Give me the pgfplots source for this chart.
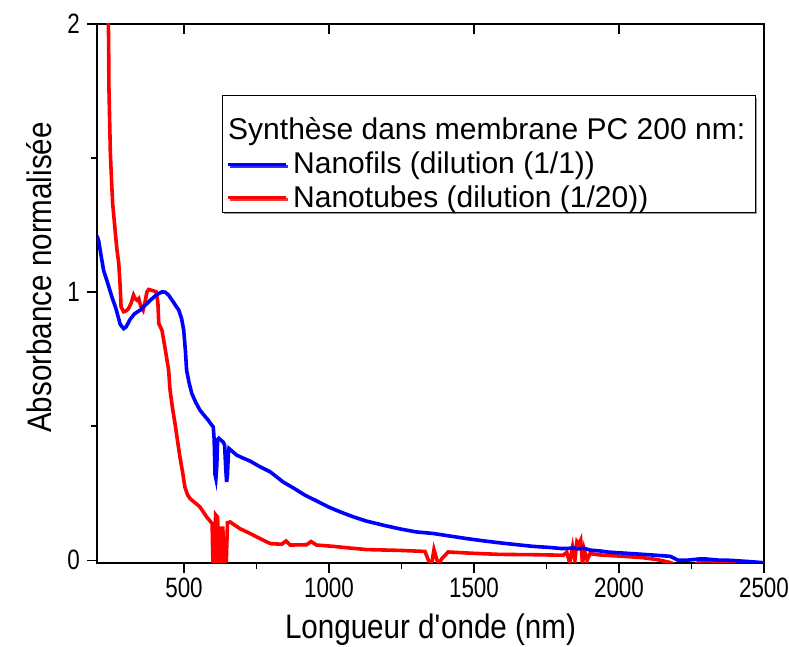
\documentclass[border=0pt]{standalone}
\usepackage{fontspec}
\setmainfont{Liberation Sans}
\newfontfamily\ticksfont[FakeStretch=0.8]{Liberation Sans}
\newfontfamily\labelfont[FakeStretch=0.87]{Liberation Sans}
\usepackage{pgfplots}
\pgfplotsset{compat=1.18}
\usetikzlibrary{shadows}

\pgfplotstableread{
x y
200 1.21
206 1.19
215 1.13
223 1.08
235 1.04
252 0.98
265 0.94
280 0.88
292 0.864
300 0.87
315 0.90
330 0.92
349 0.933
365 0.95
384 0.970
405 0.99
424 1.001
435 1.0
447 0.989
465 0.96
482 0.933
492 0.90
499 0.858
505 0.78
509 0.709
518 0.66
527 0.622
540 0.59
555 0.560
570 0.54
584 0.522
595 0.505
601 0.497
604 0.45
607 0.32
610 0.305
613 0.35
616 0.45
620 0.455
635 0.441
640 0.43
644 0.34
647 0.292
650 0.32
653 0.40
655 0.417
668 0.405
682 0.392
700 0.383
728 0.370
760 0.350
797 0.330
842 0.292
880 0.268
917 0.243
960 0.220
998 0.199
1040 0.180
1084 0.162
1130 0.146
1187 0.131
1245 0.117
1300 0.106
1360 0.100
1420 0.090
1475 0.081
1530 0.073
1590 0.065
1650 0.058
1704 0.052
1760 0.048
1800 0.044
1819 0.044
1840 0.046
1860 0.043
1880 0.045
1900 0.038
1934 0.035
1960 0.031
2015 0.027
2100 0.021
2176 0.015
2190 0.008
2204 0.0
2240 0.001
2277 0.005
2300 0.005
2340 0.001
2383 0.0
2440 -0.004
2500 -0.009
}\nanofils

\pgfplotstableread{
x y
238 2.05
240 1.95
241 1.77
244 1.62
246 1.52
250 1.42
254 1.33
260 1.26
265 1.20
269 1.157
275 1.107
280 1.02
283 0.945
292 0.927
300 0.93
309 0.939
318 0.96
326 0.989
332 0.975
338 0.970
344 0.976
350 0.95
359 0.933
365 0.96
372 1.0
378 1.010
395 1.005
404 1.001
410 0.96
413 0.883
424 0.858
434 0.796
447 0.709
452 0.634
460 0.57
469 0.510
486 0.385
495 0.33
503 0.273
512 0.245
521 0.230
540 0.213
555 0.199
578 0.162
597 0.137
600 -0.03
605 -0.03
609 0.17
616 0.16
619 -0.03
623 -0.03
627 0.12
634 0.12
638 -0.03
645 -0.03
650 0.14
659 0.143
693 0.118
728 0.100
762 0.081
790 0.066
800 0.062
837 0.060
852 0.072
866 0.057
923 0.058
938 0.070
957 0.057
1015 0.052
1070 0.046
1130 0.040
1245 0.037
1331 0.033
1343 0.0
1350 -0.015
1356 0.0
1362 0.040
1370 0.01
1377 -0.015
1389 0.006
1411 0.031
1500 0.026
1590 0.022
1700 0.021
1808 0.019
1820 0.03
1830 -0.01
1840 0.05
1848 0.0
1855 0.07
1862 0.06
1868 0.075
1874 -0.015
1880 0.04
1890 0.0
1900 0.025
1934 0.020
2015 0.015
2080 0.010
2130 0.003
2176 -0.008
2200 -0.02
2260 -0.02
2280 -0.002
2380 -0.003
2420 -0.02
2500 -0.02
}\nanotubes

\begin{document}
\begin{tikzpicture}
\begin{axis}[
    scale only axis,
    width=333.5pt, height=269.5pt,
    xmin=200, xmax=2500,
    ymin=-0.01, ymax=2,
    xtick={500,1000,1500,2000,2500},
    ytick={0,1,2},
    minor x tick num=1,
    minor y tick num=1,
    tick align=outside,
    xtick pos=bottom, ytick pos=left,
    major tick length=5pt, minor tick length=3pt,
    axis line style={line width=1pt},
    every tick/.style={black, line width=0.8pt},
    /pgf/number format/assume math mode=true,
    /pgf/number format/1000 sep={},
    tick label style={font=\ticksfont\fontsize{14}{16}\selectfont},
    xticklabel style={yshift=1pt},
    label style={font=\labelfont\fontsize{17}{20}\selectfont},
    xlabel={Longueur d\textquotesingle onde (nm)},
    ylabel={Absorbance normalisée},
    xlabel style={yshift=-1pt},
    ylabel style={yshift=1pt, xshift=8pt},
    legend cell align=left,
    legend image code/.code={\draw[#1] (0pt,0pt) -- (29pt,0pt);},
    legend style={at={(0.187,0.868)}, anchor=north west,
        font=\fontsize{15}{17.5}\selectfont,
        draw=black, line width=0.5pt, fill=white,
        drop shadow={shadow xshift=1pt, shadow yshift=-1pt, fill=gray, opacity=0.8},
        inner xsep=2pt, inner ysep=0.5pt,
        row sep=3.5pt,
        nodes={inner xsep=3pt, inner ysep=0.5pt}},
]
\addlegendimage{empty legend}
\addlegendentry{\hspace{-32.5pt}\rule{0pt}{21pt}Synthèse dans membrane PC 200 nm:}
\addlegendimage{blue, line width=1.5pt}
\addlegendentry{Nanofils (dilution (1/1))}
\addlegendimage{red, line width=1.5pt}
\addlegendentry{Nanotubes (dilution (1/20))}
\addplot[red, line width=1.8pt, forget plot] table[x=x, y=y] {\nanotubes};
\addplot[blue, line width=1.8pt, forget plot] table[x=x, y=y] {\nanofils};
\end{axis}
% inward major ticks along the top edge
\begin{axis}[
    scale only axis,
    width=333.5pt, height=269.5pt,
    xmin=200, xmax=2500,
    ymin=-0.01, ymax=2,
    xtick={500,1000,1500,2000,2500},
    xticklabels={},
    ytick=\empty,
    xtick pos=top, tick align=inside,
    major tick length=5pt,
    axis line style={draw=none},
    every tick/.style={black, line width=0.8pt},
]
\end{axis}
\pgfresetboundingbox
\path (current axis.south west) ++(-48.5pt,-42pt) rectangle ([xshift=12.5pt, yshift=12pt]current axis.north east);
\end{tikzpicture}
\end{document}
